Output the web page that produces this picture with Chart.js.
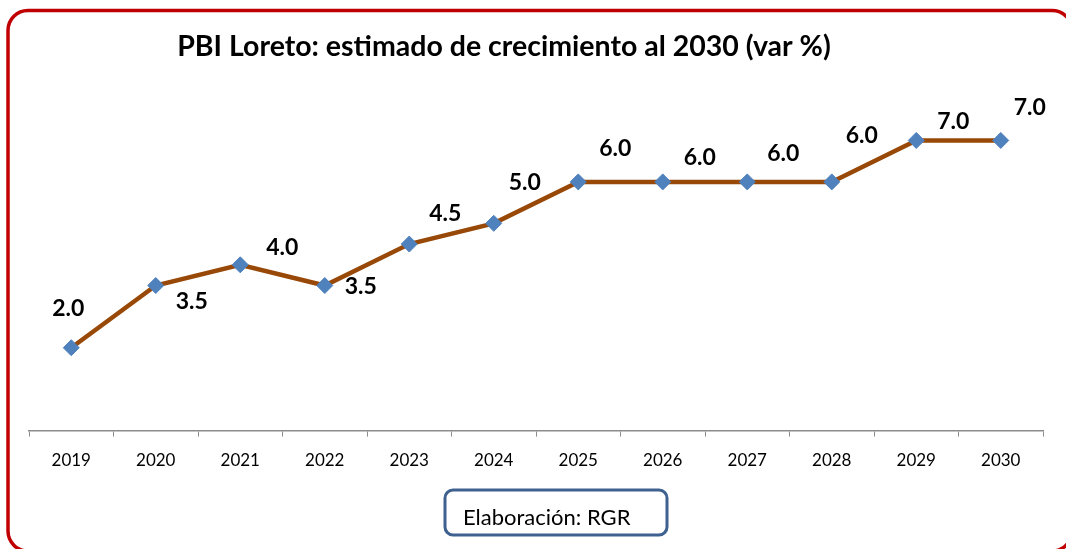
<!DOCTYPE html>
<html>
<head>
<meta charset="utf-8">
<script src="https://cdn.jsdelivr.net/npm/chart.js@4/dist/chart.umd.min.js"></script>
<style>
  html, body { margin: 0; padding: 0; background: #ffffff; }
  #wrap { position: relative; width: 1066px; height: 549px; }
  canvas { display: block; }
</style>
</head>
<body>
<div id="wrap"><canvas id="c" width="1066" height="549"></canvas></div>
<script>
// ---- data ----
const years = ["2019","2020","2021","2022","2023","2024","2025","2026","2027","2028","2029","2030"];
const growth = [2.0, 3.5, 4.0, 3.5, 4.5, 5.0, 6.0, 6.0, 6.0, 6.0, 7.0, 7.0];
const titleText = "PBI Loreto: estimado de crecimiento al 2030 (var %)";
const sourceText = "Elaboración: RGR";

// ---- label placement (style, offsets from point in px) ----
const labelDx = [-3, 36, 42, 36, 36, 31, 37, 37, 36, 30, 37, 29];
const labelDy = [-39, 16, -17, 1, -30, -41, -33, -24, -28, -46, -19, -33];

function roundRect(ctx, x, y, w, h, r) {
  ctx.beginPath();
  ctx.moveTo(x + r, y);
  ctx.lineTo(x + w - r, y);
  ctx.arcTo(x + w, y, x + w, y + r, r);
  ctx.lineTo(x + w, y + h - r);
  ctx.arcTo(x + w, y + h, x + w - r, y + h, r);
  ctx.lineTo(x + r, y + h);
  ctx.arcTo(x, y + h, x, y + h - r, r);
  ctx.lineTo(x, y + r);
  ctx.arcTo(x, y, x + r, y, r);
  ctx.closePath();
}

const decor = {
  id: 'decor',
  afterDraw(chart) {
    const ctx = chart.ctx;
    ctx.save();
    // outer red frame
    ctx.lineWidth = 3.5;
    ctx.strokeStyle = '#c00000';
    roundRect(ctx, 8, 10.5, 1064, 540.5, 20);
    ctx.stroke();

    // title
    ctx.fillStyle = '#000000';
    ctx.font = 'bold 28.5px Lato';
    ctx.textAlign = 'center';
    ctx.textBaseline = 'middle';
    ctx.fillText(titleText, 504, 47);

    // data labels
    const meta = chart.getDatasetMeta(0);
    ctx.font = 'bold 23px Lato';
    meta.data.forEach((pt, i) => {
      ctx.fillText(growth[i].toFixed(1), pt.x + labelDx[i], pt.y + labelDy[i]);
    });

    // source box
    ctx.lineWidth = 3;
    ctx.strokeStyle = '#3f6190';
    roundRect(ctx, 445, 490, 222, 45, 8);
    ctx.stroke();
    ctx.font = '22px Lato';
    ctx.textAlign = 'left';
    ctx.textBaseline = 'alphabetic';
    ctx.fillText(sourceText, 463, 525);
    ctx.restore();
  }
};

new Chart(document.getElementById('c'), {
  type: 'line',
  data: {
    labels: years,
    datasets: [{
      data: growth,
      borderColor: '#984807',
      borderWidth: 4.5,
      pointStyle: 'rectRot',
      pointRadius: 8,
      pointHoverRadius: 8,
      pointBackgroundColor: '#4f81bd',
      pointBorderColor: '#4f81bd',
      pointBorderWidth: 1,
      tension: 0,
      fill: false
    }]
  },
  options: {
    responsive: false,
    animation: false,
    events: [],
    layout: { padding: { left: 29, right: 23, top: 99, bottom: 64 } },
    plugins: { legend: { display: false }, title: { display: false }, tooltip: { enabled: false } },
    scales: {
      x: {
        type: 'category',
        offset: true,
        grid: { display: true, drawOnChartArea: false, drawTicks: true, tickLength: 6, color: '#8c8c8c', offset: true },
        border: { display: true, color: '#8c8c8c', width: 1.5 },
        ticks: { color: '#000000', font: { family: 'Lato', size: 17 }, padding: 14, maxRotation: 0 }
      },
      y: {
        display: false,
        min: 0,
        max: 8
      }
    }
  },
  plugins: [decor]
});
</script>
</body>
</html>
